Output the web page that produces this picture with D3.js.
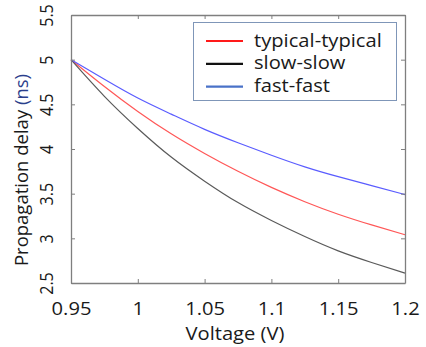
<!DOCTYPE html>
<html>
<head>
<meta charset="utf-8">
<script src="https://cdn.jsdelivr.net/npm/d3@7/dist/d3.min.js"></script>
<style>
  html, body { margin: 0; padding: 0; background: #fff; }
  svg { display: block; }
  text { font-family: "Open Sans", "Noto Sans", sans-serif; fill: #1a1a1a; }
</style>
</head>
<body>
<svg id="chart" width="426" height="347"></svg>
<script>
// Supply voltage sweep (V)
const voltage = [0.95, 0.975, 1.0, 1.025, 1.05, 1.075, 1.1, 1.125, 1.15, 1.175, 1.2];
// Propagation delay (ns) per process corner
const typicalTypical = [5.00, 4.70, 4.42, 4.17, 3.95, 3.75, 3.57, 3.41, 3.27, 3.15, 3.04];
const slowSlow       = [5.00, 4.59, 4.23, 3.91, 3.64, 3.40, 3.20, 3.02, 2.86, 2.73, 2.61];
const fastFast       = [5.00, 4.78, 4.57, 4.39, 4.22, 4.07, 3.93, 3.80, 3.69, 3.59, 3.49];

const seriesNames = ["typical-typical", "slow-slow", "fast-fast"];
const xTicks = [0.95, 1, 1.05, 1.1, 1.15, 1.2];
const yTicks = [2.5, 3, 3.5, 4, 4.5, 5, 5.5];

const series = [
  { name: seriesNames[0], values: typicalTypical, line: "#ff5757", key: "#ff1a1a" },
  { name: seriesNames[1], values: slowSlow,       line: "#5a5a5a", key: "#111111" },
  { name: seriesNames[2], values: fastFast,       line: "#5a5cff", key: "#4a72c8" }
];

const svg = d3.select("#chart");
const m = { left: 71, top: 15, right: 405, bottom: 283 };
const stretch = 1.12;   // text is drawn slightly wide

const x = d3.scaleLinear().domain([0.95, 1.2]).range([m.left, m.right]);
const y = d3.scaleLinear().domain([2.5, 5.5]).range([m.bottom, m.top]);

const axisColor = "#7f7f7f";
const fmt = d => String(+d.toFixed(2));

// Curves
const line = d3.line()
  .x((d, i) => x(voltage[i]))
  .y(d => y(d))
  .curve(d3.curveNatural);

svg.append("g").selectAll("path")
  .data(series)
  .join("path")
  .attr("d", s => line(s.values))
  .attr("fill", "none")
  .attr("stroke", s => s.line)
  .attr("stroke-width", 1.2);

// Box axes with inward ticks on all sides
const tickLen = 4;
const axBottom = svg.append("g").attr("transform", `translate(0,${m.bottom})`)
  .call(d3.axisBottom(x).tickValues(xTicks).tickSizeInner(-tickLen).tickSizeOuter(0).tickFormat(fmt));
const axTop = svg.append("g").attr("transform", `translate(0,${m.top})`)
  .call(d3.axisTop(x).tickValues(xTicks).tickSizeInner(-tickLen).tickSizeOuter(0).tickFormat(""));
const axLeft = svg.append("g").attr("transform", `translate(${m.left},0)`)
  .call(d3.axisLeft(y).tickValues(yTicks).tickSizeInner(-tickLen).tickSizeOuter(0).tickFormat(fmt));
const axRight = svg.append("g").attr("transform", `translate(${m.right},0)`)
  .call(d3.axisRight(y).tickValues(yTicks).tickSizeInner(-tickLen).tickSizeOuter(0).tickFormat(""));

[axBottom, axTop, axLeft, axRight].forEach(g => {
  g.select(".domain").attr("stroke", axisColor).attr("stroke-width", 1.3);
  g.selectAll(".tick line").attr("stroke", axisColor);
});

axBottom.selectAll(".tick text")
  .attr("y", 0).attr("dy", 0)
  .attr("text-anchor", "middle")
  .attr("transform", `translate(0,32) scale(${stretch},1)`)
  .style("font-size", "18px")
  .style("font-family", "'Open Sans', sans-serif")
  .attr("fill", "#1a1a1a");

// Y tick labels drawn vertically
axLeft.selectAll(".tick text")
  .attr("x", 0).attr("dy", 0)
  .attr("text-anchor", "middle")
  .attr("transform", `translate(-18,0) scale(${stretch},1) rotate(-90)`)
  .style("font-size", "16px")
  .style("font-family", "'Open Sans', sans-serif")
  .attr("fill", "#1a1a1a");

// Axis titles
svg.append("text")
  .attr("transform", `translate(235,340) scale(${stretch},1)`)
  .attr("text-anchor", "middle")
  .style("font-size", "18px")
  .text("Voltage (V)");

const yTitle = svg.append("text")
  .attr("transform", "translate(28,170) rotate(-90)")
  .attr("text-anchor", "middle")
  .style("font-size", "18.5px");
yTitle.append("tspan").text("Propagation delay ");
yTitle.append("tspan").attr("fill", "#2b3f8c").style("fill", "#2b3f8c").text("(ns)");

// Legend
const lg = svg.append("g");
lg.append("rect")
  .attr("x", 193.5).attr("y", 22.5)
  .attr("width", 203).attr("height", 78)
  .attr("fill", "#fff")
  .attr("stroke", "#7f96b8")
  .attr("stroke-width", 1);

const rows = lg.selectAll("g.row")
  .data(series)
  .join("g")
  .attr("class", "row")
  .attr("transform", (s, i) => `translate(0,${41 + i * 22.8})`);

rows.append("line")
  .attr("x1", 206).attr("x2", 243)
  .attr("stroke", s => s.key)
  .attr("stroke-width", 2.2);

rows.append("text")
  .attr("transform", `translate(254,5.5) scale(${stretch},1)`)
  .style("font-size", "18px")
  .text(s => s.name);
</script>
</body>
</html>
